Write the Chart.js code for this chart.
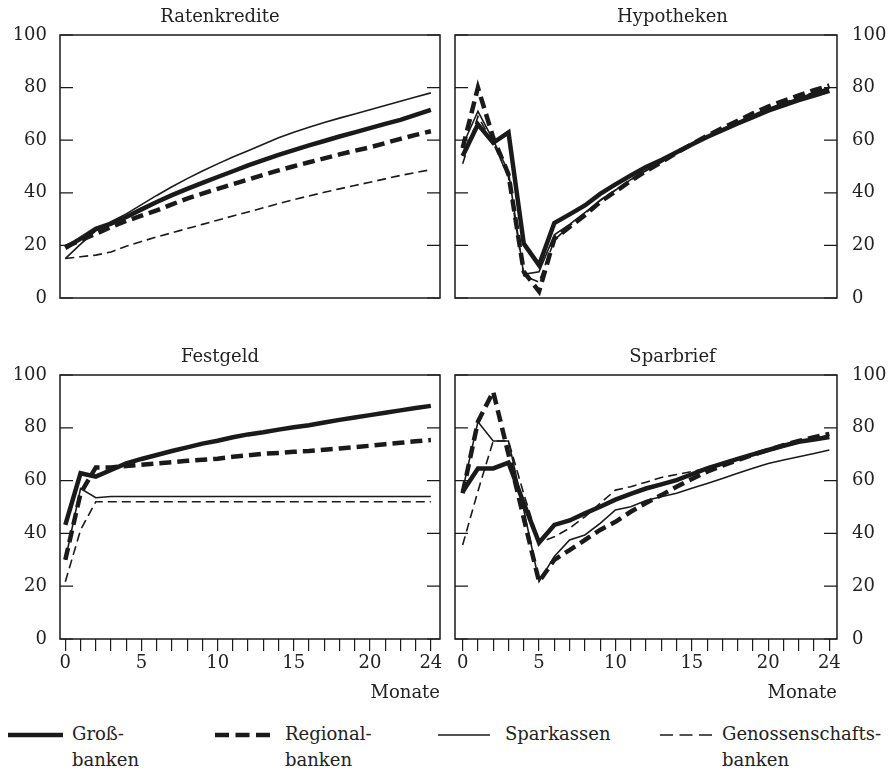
<!DOCTYPE html>
<html>
<head>
<meta charset="utf-8">
<script src="https://cdn.jsdelivr.net/npm/chart.js@4/dist/chart.umd.min.js"></script>
<style>
  body { margin: 0; background: #fff; width: 890px; height: 771px; position: relative; overflow: hidden;
         font-family: "DejaVu Serif", serif; color: #222; }
  canvas { position: absolute; }
  .lg { position: absolute; font-size: 18px; line-height: 26px; white-space: nowrap; }
  .sw { position: absolute; }
</style>
</head>
<body>
<canvas id="c1" width="450" height="312" style="left:0;top:0"></canvas>
<canvas id="c2" width="445" height="312" style="left:445px;top:0"></canvas>
<canvas id="c3" width="450" height="370" style="left:0;top:340px"></canvas>
<canvas id="c4" width="445" height="370" style="left:445px;top:340px"></canvas>
<div id="legend"></div>
<script>
const months = [0,1,2,3,4,5,6,7,8,9,10,11,12,13,14,15,16,17,18,19,20,21,22,23,24];
const yTicks = [0, 20, 40, 60, 80, 100];
const xLabelTicks = [0, 5, 10, 15, 20, 24];
const legendLabels = [['Groß-', 'banken'], ['Regional-', 'banken'], ['Sparkassen'], ['Genossenschafts-', 'banken']];

// Ratenkredite
const ratenGross = [19, 22.6, 26.3, 28.3, 30.8, 33.7, 36.5, 39.1, 41.5, 43.8, 46, 48.2, 50.4, 52.4, 54.4, 56.2, 58, 59.7, 61.4, 63, 64.6, 66.2, 67.7, 69.6, 71.5];
const ratenRegional = [19.5, 21.9, 24.4, 27, 29.3, 31.3, 33.3, 35.6, 37.8, 39.7, 41.5, 43.3, 45, 46.8, 48.5, 50.1, 51.6, 53.1, 54.6, 56, 57.3, 58.9, 60.5, 62, 63.4];
const ratenSpark = [15, 20.5, 25.5, 29, 32, 35.5, 39, 42.3, 45.4, 48.3, 51, 53.6, 56, 58.5, 60.9, 63, 64.9, 66.7, 68.4, 70, 71.6, 73.2, 74.8, 76.4, 78];
const ratenGenoss = [15, 15.7, 16.3, 17.5, 19.7, 21.5, 23.2, 24.8, 26.4, 28, 29.6, 31.2, 32.7, 34.3, 35.9, 37.4, 38.8, 40.2, 41.5, 42.8, 44, 45.3, 46.6, 47.7, 48.8];

// Hypotheken
const hypoGross = [54, 66, 59, 63, 20.7, 12.5, 28.5, 31.8, 35.2, 39.6, 43.2, 46.6, 49.8, 52.5, 55.4, 58.4, 61.2, 63.8, 66.4, 68.8, 71.2, 73.2, 75.2, 77, 78.8];
const hypoRegional = [57, 80, 61, 47, 10, 2.5, 22.5, 27, 31.5, 36.5, 40.5, 44.5, 48.3, 51.6, 55.2, 58.5, 61.7, 64.6, 67.4, 70.2, 72.8, 75, 77, 79, 80.8];
const hypoSpark = [58, 71, 60, 48, 9, 10, 24, 28, 32.5, 37, 41, 45, 48.5, 51.8, 55, 58.2, 61.2, 64, 66.8, 69.4, 71.8, 74, 76, 78, 79.8];
const hypoGenoss = [51, 69, 59, 46, 8.5, 6, 22, 27.5, 32, 37.2, 41, 44.8, 48.4, 51.6, 55.2, 58.5, 61.5, 64.3, 67, 69.6, 72, 74.2, 76.2, 78.2, 80];

// Festgeld
const festGross = [43.2, 62.8, 61.5, 64, 66.5, 68.2, 69.7, 71.2, 72.6, 74, 75.1, 76.4, 77.5, 78.3, 79.3, 80.2, 81, 82, 83, 83.9, 84.8, 85.7, 86.6, 87.5, 88.3];
const festRegional = [30, 55.2, 65, 65, 65.5, 66, 66.5, 67, 67.5, 67.9, 68.3, 69, 69.6, 70.2, 70.5, 70.9, 71.2, 71.7, 72.2, 72.7, 73.2, 73.8, 74.3, 74.9, 75.4];
const festSpark = [30, 57, 53.5, 54, 54, 54, 54, 54, 54, 54, 54, 54, 54, 54, 54, 54, 54, 54, 54, 54, 54, 54, 54, 54, 54];
const festGenoss = [21.7, 41.3, 52, 52, 52, 52, 52, 52, 52, 52, 52, 52, 52, 52, 52, 52, 52, 52, 52, 52, 52, 52, 52, 52, 52];

// Sparbrief
const sparGross = [55.8, 64.6, 64.6, 66.8, 51.4, 36.5, 43.2, 44.9, 47.6, 50.1, 52.8, 55, 57, 58.6, 60.2, 62.4, 64.6, 66.4, 68.2, 69.9, 71.6, 73.2, 74.7, 75.6, 76.5];
const sparRegional = [55.2, 82.3, 93.7, 70, 45.7, 21.7, 30, 33.7, 37.5, 41.3, 44.4, 48.2, 51.5, 54.5, 57.7, 60.6, 63.4, 65.7, 67.8, 69.8, 71.6, 73.4, 75, 76.4, 77.7];
const sparSpark = [56.4, 82.3, 75, 75, 48.9, 21.7, 31.3, 37.5, 39.4, 43.8, 48.9, 50.1, 52.5, 53.9, 55.2, 57.1, 58.9, 60.8, 62.8, 64.7, 66.5, 67.8, 69, 70.3, 71.6];
const sparGenoss = [35.6, 56, 75, 75, 55, 36.5, 38.7, 42, 46.3, 51.4, 56.4, 57.7, 59.4, 61.2, 62.3, 63.4, 64.8, 66.5, 68.2, 69.9, 71.6, 73.2, 74.8, 76, 77.2];

const ink = '#1a1a1a';
const textColor = '#222';
const font = { family: '"DejaVu Serif", serif', size: 18 };

// line styles: Großbanken, Regionalbanken, Sparkassen, Genossenschaftsbanken
const lineStyles = [
    { borderWidth: 4.5, borderDash: [] },
    { borderWidth: 4.5, borderDash: [12, 6] },
    { borderWidth: 1.6, borderDash: [] },
    { borderWidth: 1.6, borderDash: [9, 5] }
];

const boxPlugin = {
    id: 'box',
    afterDatasetsDraw(chart) {
        const { ctx, chartArea: a, scales: { y } } = chart;
        ctx.save();
        ctx.strokeStyle = ink;
        ctx.lineWidth = 1.5;
        ctx.strokeRect(a.left, a.top, a.right - a.left, a.bottom - a.top);
        ctx.lineWidth = 1.2;
        yTicks.forEach((v) => {
            const py = y.getPixelForValue(v);
            ctx.beginPath();
            ctx.moveTo(a.left, py);
            ctx.lineTo(a.left + 13, py);
            ctx.moveTo(a.right, py);
            ctx.lineTo(a.right - 13, py);
            ctx.stroke();
        });
        ctx.restore();
    }
};

function makeChart(canvasId, title, seriesList, side, bottom) {
    const datasets = seriesList.map((values, i) => ({
        label: legendLabels[i].join(''),
        data: values,
        borderColor: ink,
        borderWidth: lineStyles[i].borderWidth,
        borderDash: lineStyles[i].borderDash,
        pointRadius: 0,
        tension: 0,
        fill: false
    }));

    const ctx = document.getElementById(canvasId).getContext('2d');
    return new Chart(ctx, {
        type: 'line',
        data: { labels: months, datasets: datasets },
        options: {
            responsive: false,
            animation: false,
            devicePixelRatio: 1,
            layout: {
                padding: {
                    left: side === 'left' ? 0 : 10,
                    right: side === 'left' ? 10 : 0,
                    top: 0,
                    bottom: bottom ? 0 : 14
                }
            },
            plugins: {
                legend: { display: false },
                tooltip: { enabled: false },
                title: {
                    display: true,
                    text: title,
                    color: textColor,
                    font: { ...font, weight: 'normal' },
                    padding: { top: 6.5, bottom: 6.9 }
                }
            },
            scales: {
                x: {
                    type: 'linear',
                    min: side === 'left' ? -0.35 : -0.5,
                    max: side === 'left' ? 24.6 : 24.5,
                    display: bottom,
                    afterBuildTicks: (s) => { s.ticks = months.map((v) => ({ value: v })); },
                    ticks: {
                        autoSkip: false,
                        maxRotation: 0,
                        padding: 2,
                        color: textColor,
                        font: font,
                        callback: (v) => (xLabelTicks.includes(v) ? String(v) : '')
                    },
                    grid: { drawOnChartArea: false, drawTicks: true, tickLength: 12, color: ink, lineWidth: 1.2 },
                    border: { display: false },
                    title: {
                        display: bottom,
                        text: 'Monate',
                        align: 'end',
                        color: textColor,
                        font: font,
                        padding: { top: 0, bottom: 6 }
                    },
                    afterFit: (s) => { if (bottom) s.height = 71; }
                },
                y: {
                    min: 0,
                    max: 100,
                    position: side,
                    afterBuildTicks: (s) => { s.ticks = yTicks.map((v) => ({ value: v })); },
                    ticks: { color: textColor, font: font, padding: side === 'left' ? 13 : 15 },
                    grid: { display: false, drawTicks: false },
                    border: { display: false },
                    afterFit: (s) => {
                        s.width = side === 'left' ? 60 : 53;
                        // keep the plot box where the layout puts it; end labels may overhang
                        s.paddingTop = 0;
                        s.paddingBottom = 0;
                    }
                }
            }
        },
        plugins: [boxPlugin]
    });
}

makeChart('c1', 'Ratenkredite', [ratenGross, ratenRegional, ratenSpark, ratenGenoss], 'left', false);
makeChart('c2', 'Hypotheken', [hypoGross, hypoRegional, hypoSpark, hypoGenoss], 'right', false);
makeChart('c3', 'Festgeld', [festGross, festRegional, festSpark, festGenoss], 'left', true);
makeChart('c4', 'Sparbrief', [sparGross, sparRegional, sparSpark, sparGenoss], 'right', true);

// legend (HTML)
const legendSwatchX = [8, 215, 438, 660];
const legendSwatchW = [55, 55, 52, 52];
const legendTextX = [72, 285, 505, 722];
const legendSwatchDash = [[], [14, 6.5], [], [13, 6.5]];
const legendEl = document.getElementById('legend');
legendLabels.forEach((lines, i) => {
    const svgNS = 'http://www.w3.org/2000/svg';
    const svg = document.createElementNS(svgNS, 'svg');
    svg.setAttribute('class', 'sw');
    svg.setAttribute('width', legendSwatchW[i]);
    svg.setAttribute('height', 12);
    svg.style.left = legendSwatchX[i] + 'px';
    svg.style.top = '729px';
    const ln = document.createElementNS(svgNS, 'line');
    ln.setAttribute('x1', 0);
    ln.setAttribute('y1', 6);
    ln.setAttribute('x2', legendSwatchW[i]);
    ln.setAttribute('y2', 6);
    ln.setAttribute('stroke', ink);
    ln.setAttribute('stroke-width', lineStyles[i].borderWidth);
    if (legendSwatchDash[i].length) ln.setAttribute('stroke-dasharray', legendSwatchDash[i].join(' '));
    svg.appendChild(ln);
    legendEl.appendChild(svg);

    const t = document.createElement('div');
    t.className = 'lg';
    t.style.left = legendTextX[i] + 'px';
    t.style.top = '721px';
    t.innerHTML = lines.join('<br>');
    legendEl.appendChild(t);
});
</script>
</body>
</html>
